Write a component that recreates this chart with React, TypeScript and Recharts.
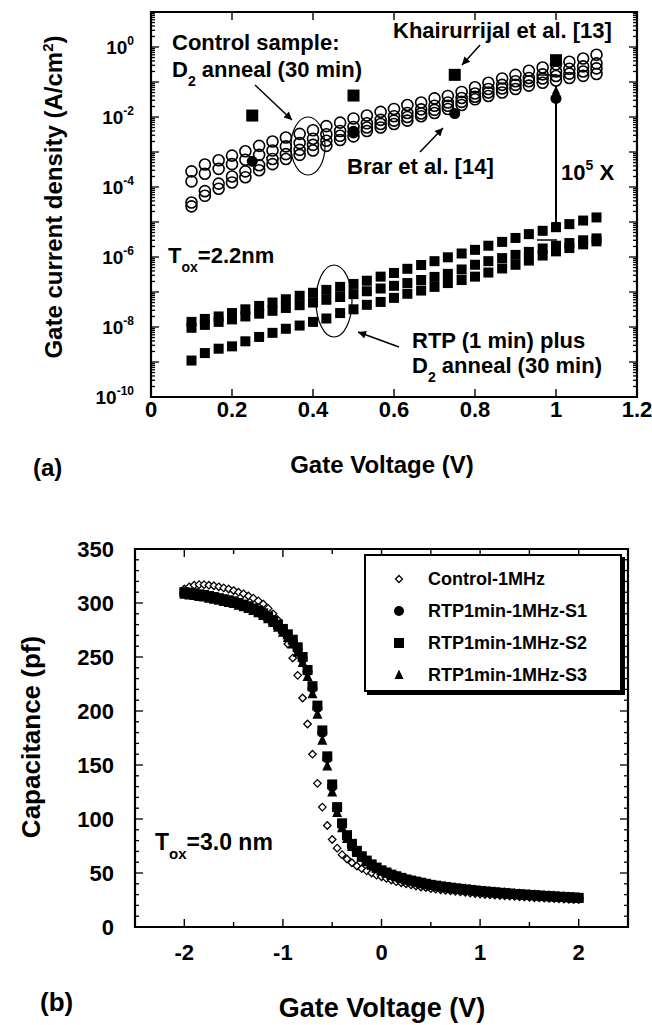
import React from 'react';
import { ScatterChart, Scatter, XAxis, YAxis, ReferenceArea, Legend } from 'recharts';

const FONT = '"Liberation Sans", Arial, Helvetica, sans-serif';

// ---------- (a) gate current density (A/cm^2) vs gate voltage ----------
const gateV = [0.1, 0.133, 0.167, 0.2, 0.233, 0.267, 0.3, 0.333, 0.367, 0.4, 0.433, 0.467, 0.5, 0.533, 0.567, 0.6,
  0.633, 0.667, 0.7, 0.733, 0.767, 0.8, 0.833, 0.867, 0.9, 0.933, 0.967, 1.0, 1.033, 1.067, 1.1];

// control sample, D2 anneal (30 min) - four devices
const ctrl1 = [2.8e-4, 4.4e-4, 5.8e-4, 7.9e-4, 1.05e-3, 1.5e-3, 2.0e-3, 2.6e-3, 3.3e-3, 4.2e-3, 5.5e-3, 6.9e-3, 9.1e-3,
  1.1e-2, 1.4e-2, 1.7e-2, 2.2e-2, 2.6e-2, 3.4e-2, 4.0e-2, 5.2e-2, 7.1e-2, 9.5e-2, 0.126, 0.16, 0.21, 0.26, 0.32, 0.38, 0.47, 0.6];
const ctrl2 = [1.45e-4, 2.4e-4, 3.3e-4, 4.5e-4, 6.0e-4, 8.3e-4, 1.1e-3, 1.45e-3, 1.8e-3, 2.4e-3, 3.2e-3, 4.0e-3, 5.2e-3,
  6.6e-3, 8.3e-3, 1.05e-2, 1.3e-2, 1.65e-2, 2.1e-2, 2.6e-2, 3.5e-2, 4.7e-2, 6.3e-2, 8.3e-2, 0.105, 0.13, 0.165, 0.2, 0.24, 0.28, 0.34];
const ctrl3 = [3.6e-5, 7.6e-5, 1.25e-4, 2.0e-4, 2.8e-4, 4.2e-4, 6.3e-4, 8.7e-4, 1.15e-3, 1.6e-3, 2.1e-3, 2.9e-3, 3.7e-3,
  5.0e-3, 6.3e-3, 7.9e-3, 1.0e-2, 1.26e-2, 1.6e-2, 2.1e-2, 2.7e-2, 3.8e-2, 5.0e-2, 6.5e-2, 8.3e-2, 0.105, 0.126, 0.148, 0.174, 0.2, 0.245];
const ctrl4 = [2.8e-5, 5.6e-5, 8.9e-5, 1.35e-4, 1.9e-4, 3.0e-4, 4.5e-4, 6.3e-4, 8.3e-4, 1.1e-3, 1.5e-3, 2.2e-3, 2.8e-3,
  4.0e-3, 5.0e-3, 6.3e-3, 7.9e-3, 1.05e-2, 1.3e-2, 1.7e-2, 2.2e-2, 3.2e-2, 4.0e-2, 5.0e-2, 6.3e-2, 7.9e-2, 9.5e-2, 0.11, 0.13, 0.15, 0.17];

// RTP (1 min) plus D2 anneal (30 min)
const rtp1 = [1.4e-8, 1.7e-8, 2.0e-8, 2.5e-8, 3.2e-8, 4.0e-8, 5.0e-8, 6.2e-8, 7.8e-8, 9.5e-8, 1.15e-7, 1.4e-7, 1.7e-7,
  2.1e-7, 2.75e-7, 3.5e-7, 4.6e-7, 5.9e-7, 7.6e-7, 9.8e-7, 1.26e-6, 1.6e-6, 2.1e-6, 2.7e-6, 3.5e-6, 4.5e-6, 5.6e-6, 7.1e-6, 8.7e-6, 1.1e-5, 1.35e-5];
const rtp2 = [9.5e-9, 1.15e-8, 1.4e-8, 1.65e-8, 2.0e-8, 2.4e-8, 2.9e-8, 3.5e-8, 4.2e-8, 5.0e-8, 6.0e-8, 7.2e-8, 8.7e-8,
  1.05e-7, 1.26e-7, 1.5e-7, 1.8e-7, 2.2e-7, 2.7e-7, 3.3e-7, 4.4e-7, 6.0e-7, 7.6e-7, 9.3e-7, 1.15e-6, 1.4e-6, 1.75e-6, 2.1e-6, 2.5e-6, 3.0e-6, 3.4e-6];
const rtp3 = [1.1e-9, 1.8e-9, 2.4e-9, 2.8e-9, 3.9e-9, 5.2e-9, 6.8e-9, 8.9e-9, 1.1e-8, 1.4e-8, 1.75e-8, 2.5e-8, 3.2e-8,
  4.3e-8, 5.2e-8, 6.8e-8, 8.9e-8, 1.1e-7, 1.4e-7, 1.8e-7, 2.2e-7, 2.75e-7, 3.6e-7, 4.7e-7, 6.0e-7, 7.9e-7, 1.1e-6, 1.45e-6, 1.8e-6, 2.3e-6, 2.8e-6];

// published points
const litV = [0.25, 0.5, 0.75, 1.0];
const khairurrijal = [1.1e-2, 4.1e-2, 0.16, 0.42];
const brar = [5.4e-4, 3.8e-3, 1.26e-2, 3.4e-2];

const aXTicks = [0, 0.2, 0.4, 0.6, 0.8, 1, 1.2];
const aYTicks: number[] = [];
for (let d = -10; d <= 0; d++) for (let k = 1; k <= 9; k++) aYTicks.push(k * Math.pow(10, d));
aYTicks.push(10);

// ---------- (b) C-V at 1 MHz ----------
const biasV = [-2, -1.95, -1.9, -1.85, -1.8, -1.75, -1.7, -1.65, -1.6, -1.55,
  -1.5, -1.45, -1.4, -1.35, -1.3, -1.25, -1.2, -1.15, -1.1, -1.05,
  -1, -0.95, -0.9, -0.85, -0.8, -0.75, -0.7, -0.65, -0.6, -0.55,
  -0.5, -0.45, -0.4, -0.35, -0.3, -0.25, -0.2, -0.15, -0.1, -0.05,
  0, 0.05, 0.1, 0.15, 0.2, 0.25, 0.3, 0.35, 0.4, 0.45,
  0.5, 0.55, 0.6, 0.65, 0.7, 0.75, 0.8, 0.85, 0.9, 0.95,
  1, 1.05, 1.1, 1.15, 1.2, 1.25, 1.3, 1.35, 1.4, 1.45,
  1.5, 1.55, 1.6, 1.65, 1.7, 1.75, 1.8, 1.85, 1.9, 1.95, 2];
const control1MHz = [313, 315, 316.5, 317, 317, 316.5, 316, 315, 314, 313,
  311.5, 310, 308.5, 306.5, 304.5, 302, 299, 295, 290, 284,
  276, 262, 249, 233, 212, 188, 160, 133, 111, 94,
  81, 73, 67, 63, 59.5, 56.5, 54, 52, 50, 48,
  46.5, 45, 43.5, 42, 41, 40, 39, 38, 37, 36.5,
  35.5, 35, 34.5, 34, 33.5, 33, 32.5, 32, 31.5, 31,
  30.5, 30, 29.8, 29.5, 29.2, 28.9, 28.6, 28.3, 28, 27.7,
  27.4, 27.1, 26.9, 26.7, 26.5, 26.3, 26.1, 25.9, 25.7, 25.5, 25.3];
const rtpS1 = [309, 308.5, 308, 307, 306.5, 305.5, 304.5, 303.5, 302.5, 301.5,
  300.5, 299, 297.5, 296, 294, 292, 289.5, 286.5, 283, 279,
  275, 270, 264.5, 257.5, 248.5, 236.5, 221, 203, 180, 156,
  130, 110, 95, 84, 76, 70, 65, 61, 57.5, 54.5,
  52, 50, 48, 46.5, 45, 43.7, 42.6, 41.6, 40.6, 39.7,
  38.8, 38, 37.3, 36.7, 36.1, 35.5, 35, 34.5, 34, 33.5,
  33, 32.6, 32.2, 31.8, 31.4, 31, 30.7, 30.3, 30, 29.7,
  29.4, 29.1, 28.8, 28.5, 28.2, 28, 27.7, 27.5, 27.2, 27, 26.7];
const rtpS2 = [310, 309.5, 309, 308, 307.5, 306.5, 305.5, 304.5, 303.5, 302.5,
  301.5, 300, 298.5, 297, 295, 293, 290.5, 287.5, 284, 280,
  276, 271, 266, 259, 250, 238, 223, 205, 182, 158,
  132, 111, 96, 85, 77, 70.5, 65.5, 61.5, 58, 55,
  52.5, 50.5, 48.5, 47, 45.5, 44, 43, 42, 41, 40,
  39, 38.3, 37.6, 37, 36.4, 35.8, 35.3, 34.8, 34.3, 33.8,
  33.3, 32.9, 32.5, 32.1, 31.7, 31.3, 31, 30.6, 30.3, 30,
  29.7, 29.4, 29.1, 28.8, 28.5, 28.3, 28, 27.8, 27.5, 27.3, 27];
const rtpS3 = [308, 307.5, 307, 306, 305.5, 304.5, 303.5, 302.5, 301.5, 300.5,
  299.5, 298, 296.5, 295, 293, 291, 288.5, 285.5, 282, 277.5,
  273, 268, 262, 254.5, 245, 232, 216, 197, 173, 149,
  125, 106, 92, 82, 74.5, 69, 64.5, 60.5, 57, 54.5,
  52, 50, 48.3, 46.8, 45.4, 44.1, 43, 42, 41, 40.1,
  39.2, 38.4, 37.7, 37.1, 36.5, 35.9, 35.4, 34.9, 34.4, 33.9,
  33.4, 33, 32.6, 32.2, 31.8, 31.4, 31.1, 30.7, 30.4, 30.1,
  29.8, 29.5, 29.2, 28.9, 28.6, 28.4, 28.1, 27.9, 27.6, 27.4, 27.1];

const bXTicks = [-2.5, -2, -1.5, -1, -0.5, 0, 0.5, 1, 1.5, 2, 2.5];
const bYTicks: number[] = [];
for (let c = 0; c <= 350; c += 10) bYTicks.push(c);

const bLegend = [
  { name: 'Control-1MHz', kind: 'diamond' },
  { name: 'RTP1min-1MHz-S1', kind: 'circle' },
  { name: 'RTP1min-1MHz-S2', kind: 'square' },
  { name: 'RTP1min-1MHz-S3', kind: 'triangle' },
];

// plot frames (px)
const A = { w: 486, h: 385 };
const B = { w: 493, h: 378 };

const pts = (xs: number[], ys: number[]) => xs.map((x, i) => ({ x, y: ys[i] }));

const txt = { fontFamily: FONT, fontWeight: 'bold' as const, fill: '#000' };

// ----- markers -----
const ring = (p: any) => <circle cx={p.cx} cy={p.cy} r={5.5} fill="none" stroke="#000" strokeWidth={1.6} />;
const box = (s: number) => (p: any) => <rect x={p.cx - s / 2} y={p.cy - s / 2} width={s} height={s} fill="#000" />;
const dot = (r: number) => (p: any) => <circle cx={p.cx} cy={p.cy} r={r} fill="#000" />;
const tri = (s: number) => (p: any) => (
  <polygon points={`${p.cx},${p.cy - s * 0.6} ${p.cx - s / 2},${p.cy + s * 0.45} ${p.cx + s / 2},${p.cy + s * 0.45}`} fill="#000" />
);
const diamond = (s: number) => (p: any) => (
  <polygon points={`${p.cx},${p.cy - s / 2} ${p.cx + s / 2},${p.cy} ${p.cx},${p.cy + s / 2} ${p.cx - s / 2},${p.cy}`}
    fill="#fff" stroke="#000" strokeWidth={1.3} />
);

// ----- ticks -----
function LogTickA({ x, y, payload }: any) {
  const lg = Math.log10(payload.value);
  const e = Math.round(lg);
  const major = Math.abs(lg - e) < 1e-6;
  const len = major ? 8 : 4;
  return (
    <g>
      <line x1={x} y1={y} x2={x + len} y2={y} stroke="#000" strokeWidth={1.3} />
      <line x1={x + A.w - len} y1={y} x2={x + A.w} y2={y} stroke="#000" strokeWidth={1.3} />
      {major && e % 2 === 0 && e <= 0 && (
        <text x={x - 17} y={y + 7} textAnchor="end" fontSize={19} {...txt}>
          10<tspan dy={-9} fontSize={12}>{e}</tspan>
        </text>
      )}
    </g>
  );
}

function XTickA({ x, y, payload }: any) {
  return (
    <g>
      <line x1={x} y1={y} x2={x} y2={y - 8} stroke="#000" strokeWidth={1.4} />
      <line x1={x} y1={y - A.h} x2={x} y2={y - A.h + 8} stroke="#000" strokeWidth={1.4} />
      <text x={x} y={y + 20} textAnchor="middle" fontSize={22} {...txt}>{String(payload.value)}</text>
    </g>
  );
}

function YTickB({ x, y, payload }: any) {
  const v = payload.value;
  const major = v % 50 === 0;
  const len = major ? 8 : 4;
  return (
    <g>
      <line x1={x} y1={y} x2={x + len} y2={y} stroke="#000" strokeWidth={1.3} />
      <line x1={x + B.w - len} y1={y} x2={x + B.w} y2={y} stroke="#000" strokeWidth={1.3} />
      {major && <text x={x - 21} y={y + 8} textAnchor="end" fontSize={22} {...txt}>{v}</text>}
    </g>
  );
}

function XTickB({ x, y, payload }: any) {
  const v = payload.value;
  const major = Number.isInteger(v);
  const len = major ? 8 : 5;
  return (
    <g>
      <line x1={x} y1={y} x2={x} y2={y - len} stroke="#000" strokeWidth={1.4} />
      <line x1={x} y1={y - B.h} x2={x} y2={y - B.h + len} stroke="#000" strokeWidth={1.4} />
      {major && <text x={x} y={y + 33} textAnchor="middle" fontSize={22} {...txt}>{String(v)}</text>}
    </g>
  );
}

function LegendSymbol({ kind }: { kind: string }) {
  const p = { cx: 10, cy: 10 };
  return (
    <svg width={20} height={20} style={{ display: 'block' }}>
      {kind === 'diamond' && diamond(7)(p)}
      {kind === 'circle' && dot(5)(p)}
      {kind === 'square' && box(10)(p)}
      {kind === 'triangle' && tri(9)(p)}
    </svg>
  );
}

function LegendBox() {
  return (
    <div style={{
      width: 258, height: 138, boxSizing: 'border-box', border: '2px solid #000', boxShadow: '3px 3px 0 #000',
      background: '#fff', paddingTop: 7, fontFamily: FONT, fontWeight: 'bold', fontSize: 18,
    }}>
      {bLegend.map((it) => (
        <div key={it.name} style={{ display: 'flex', alignItems: 'center', height: 32 }}>
          <div style={{ width: 25, marginLeft: 23 }}><LegendSymbol kind={it.kind} /></div>
          <span style={{ marginLeft: 14 }}>{it.name}</span>
        </div>
      ))}
    </div>
  );
}

function PanelA() {
  return (
    <ScatterChart width={652} height={500} margin={{ top: 12, right: 15, bottom: 73, left: 91 }}>
      <XAxis dataKey="x" type="number" domain={[0, 1.2]} ticks={aXTicks} interval={0} height={30}
        axisLine={false} tickLine={false} tickSize={0} tickMargin={0} tick={<XTickA />} allowDataOverflow />
      <YAxis dataKey="y" type="number" scale="log" domain={[1e-10, 10]} ticks={aYTicks} interval={0} width={60}
        axisLine={false} tickLine={false} tickSize={0} tickMargin={0} tick={<LogTickA />} allowDataOverflow />
      <ReferenceArea x1={0} x2={1.2} y1={1e-10} y2={10} fill="none" stroke="#000" strokeWidth={2.2} fillOpacity={0} />
      <Scatter data={pts(gateV, ctrl1)} shape={ring} isAnimationActive={false} />
      <Scatter data={pts(gateV, ctrl2)} shape={ring} isAnimationActive={false} />
      <Scatter data={pts(gateV, ctrl3)} shape={ring} isAnimationActive={false} />
      <Scatter data={pts(gateV, ctrl4)} shape={ring} isAnimationActive={false} />
      <Scatter data={pts(gateV, rtp1)} shape={box(10)} isAnimationActive={false} />
      <Scatter data={pts(gateV, rtp2)} shape={box(10)} isAnimationActive={false} />
      <Scatter data={pts(gateV, rtp3)} shape={box(10)} isAnimationActive={false} />
      <Scatter data={pts(litV, khairurrijal)} shape={box(12)} isAnimationActive={false} />
      <Scatter data={pts(litV, brar)} shape={dot(5.5)} isAnimationActive={false} />
    </ScatterChart>
  );
}

function PanelB() {
  return (
    <ScatterChart width={652} height={505} margin={{ top: 29, right: 24, bottom: 68, left: 75 }}>
      <XAxis dataKey="x" type="number" domain={[-2.5, 2.5]} ticks={bXTicks} interval={0} height={30}
        axisLine={false} tickLine={false} tickSize={0} tickMargin={0} tick={<XTickB />} allowDataOverflow />
      <YAxis dataKey="y" type="number" domain={[0, 350]} ticks={bYTicks} interval={0} width={60}
        axisLine={false} tickLine={false} tickSize={0} tickMargin={0} tick={<YTickB />} allowDataOverflow />
      <ReferenceArea x1={-2.5} x2={2.5} y1={0} y2={350} fill="none" stroke="#000" strokeWidth={2.2} fillOpacity={0} />
      <Scatter name="Control-1MHz" data={pts(biasV, control1MHz)} shape={diamond(7.5)} isAnimationActive={false} />
      <Scatter name="RTP1min-1MHz-S3" data={pts(biasV, rtpS3)} shape={tri(10)} isAnimationActive={false} />
      <Scatter name="RTP1min-1MHz-S1" data={pts(biasV, rtpS1)} shape={dot(5)} isAnimationActive={false} />
      <Scatter name="RTP1min-1MHz-S2" data={pts(biasV, rtpS2)} shape={box(10)} isAnimationActive={false} />
      <Legend content={() => <LegendBox />} layout="vertical" verticalAlign="middle" align="center"
        wrapperStyle={{ left: 364, top: 34, width: 262 }} />
    </ScatterChart>
  );
}

function Annotations() {
  const line = { stroke: '#000', strokeWidth: 1.5 };
  return (
    <svg width={652} height={1025} style={{ position: 'absolute', left: 0, top: 0, pointerEvents: 'none' }}>
      <defs>
        <marker id="ah" viewBox="0 0 10 10" refX="10" refY="5" markerWidth="11" markerHeight="8"
          markerUnits="userSpaceOnUse" orient="auto-start-reverse">
          <path d="M0,0 L10,5 L0,10 z" fill="#000" />
        </marker>
      </defs>
      {/* panel (a) */}
      <text x={62} y={197} transform="rotate(-90 62 197)" textAnchor="middle" fontSize={24} {...txt}>
        Gate current density (A/cm<tspan dy={-9} fontSize={15}>2</tspan><tspan dy={9}>)</tspan>
      </text>
      <text x={382} y={473} textAnchor="middle" fontSize={24} {...txt}>Gate Voltage (V)</text>
      <text x={33} y={476} fontSize={24} {...txt}>(a)</text>

      <text x={172} y={50} fontSize={22} {...txt}>Control sample:</text>
      <text x={172} y={77} fontSize={22} {...txt}>D<tspan dy={9} fontSize={14}>2</tspan><tspan dy={-9}> anneal (30 min)</tspan></text>
      <line x1={255} y1={85} x2={292} y2={120} {...line} markerEnd="url(#ah)" />
      <ellipse cx={308} cy={146} rx={17} ry={29} fill="none" stroke="#000" strokeWidth={1.2} />

      <text x={393} y={38} fontSize={22} {...txt}>Khairurrijal et al. [13]</text>
      <line x1={480} y1={45} x2={462} y2={65} {...line} markerEnd="url(#ah)" />
      <text x={347} y={174} fontSize={22} {...txt}>Brar et al. [14]</text>
      <line x1={420} y1={152} x2={443} y2={128} {...line} markerEnd="url(#ah)" />

      <line x1={556} y1={86} x2={556} y2={230} stroke="#000" strokeWidth={2} markerStart="url(#ah)" markerEnd="url(#ah)" />
      <line x1={537} y1={75} x2={557} y2={75} stroke="#000" strokeWidth={1.5} />
      <line x1={537} y1={240} x2={557} y2={240} stroke="#000" strokeWidth={1.5} />
      <text x={561} y={180} fontSize={22} {...txt}>10<tspan dy={-10} fontSize={14}>5</tspan><tspan dy={10}> X</tspan></text>

      <text x={168} y={263} fontSize={22} {...txt}>T<tspan dy={9} fontSize={14}>ox</tspan><tspan dy={-9}>=2.2nm</tspan></text>
      <ellipse cx={334} cy={301} rx={18} ry={36} fill="none" stroke="#000" strokeWidth={1.2} />
      <line x1={399} y1={347} x2={358} y2={332} {...line} markerEnd="url(#ah)" />
      <text x={412} y={348} fontSize={22} {...txt}>RTP (1 min) plus</text>
      <text x={412} y={373} fontSize={22} {...txt}>D<tspan dy={9} fontSize={14}>2</tspan><tspan dy={-9}> anneal (30 min)</tspan></text>

      {/* panel (b) */}
      <text x={40} y={737} transform="rotate(-90 40 737)" textAnchor="middle" fontSize={26} {...txt}>Capacitance (pf)</text>
      <text x={382} y={1017} textAnchor="middle" fontSize={27} {...txt}>Gate Voltage (V)</text>
      <text x={40} y={1011} fontSize={26} {...txt}>(b)</text>
      <text x={155} y={850} fontSize={23} {...txt}>T<tspan dy={9} fontSize={15}>ox</tspan><tspan dy={-9}>=3.0 nm</tspan></text>
    </svg>
  );
}

export default function App() {
  return (
    <div style={{ position: 'absolute', left: 0, top: 0, width: 652, height: 1025, background: '#fff', overflow: 'hidden' }}>
      <div style={{ position: 'absolute', left: 0, top: 0 }}>
        <PanelA />
      </div>
      <div style={{ position: 'absolute', left: 0, top: 520 }}>
        <PanelB />
      </div>
      <Annotations />
    </div>
  );
}
